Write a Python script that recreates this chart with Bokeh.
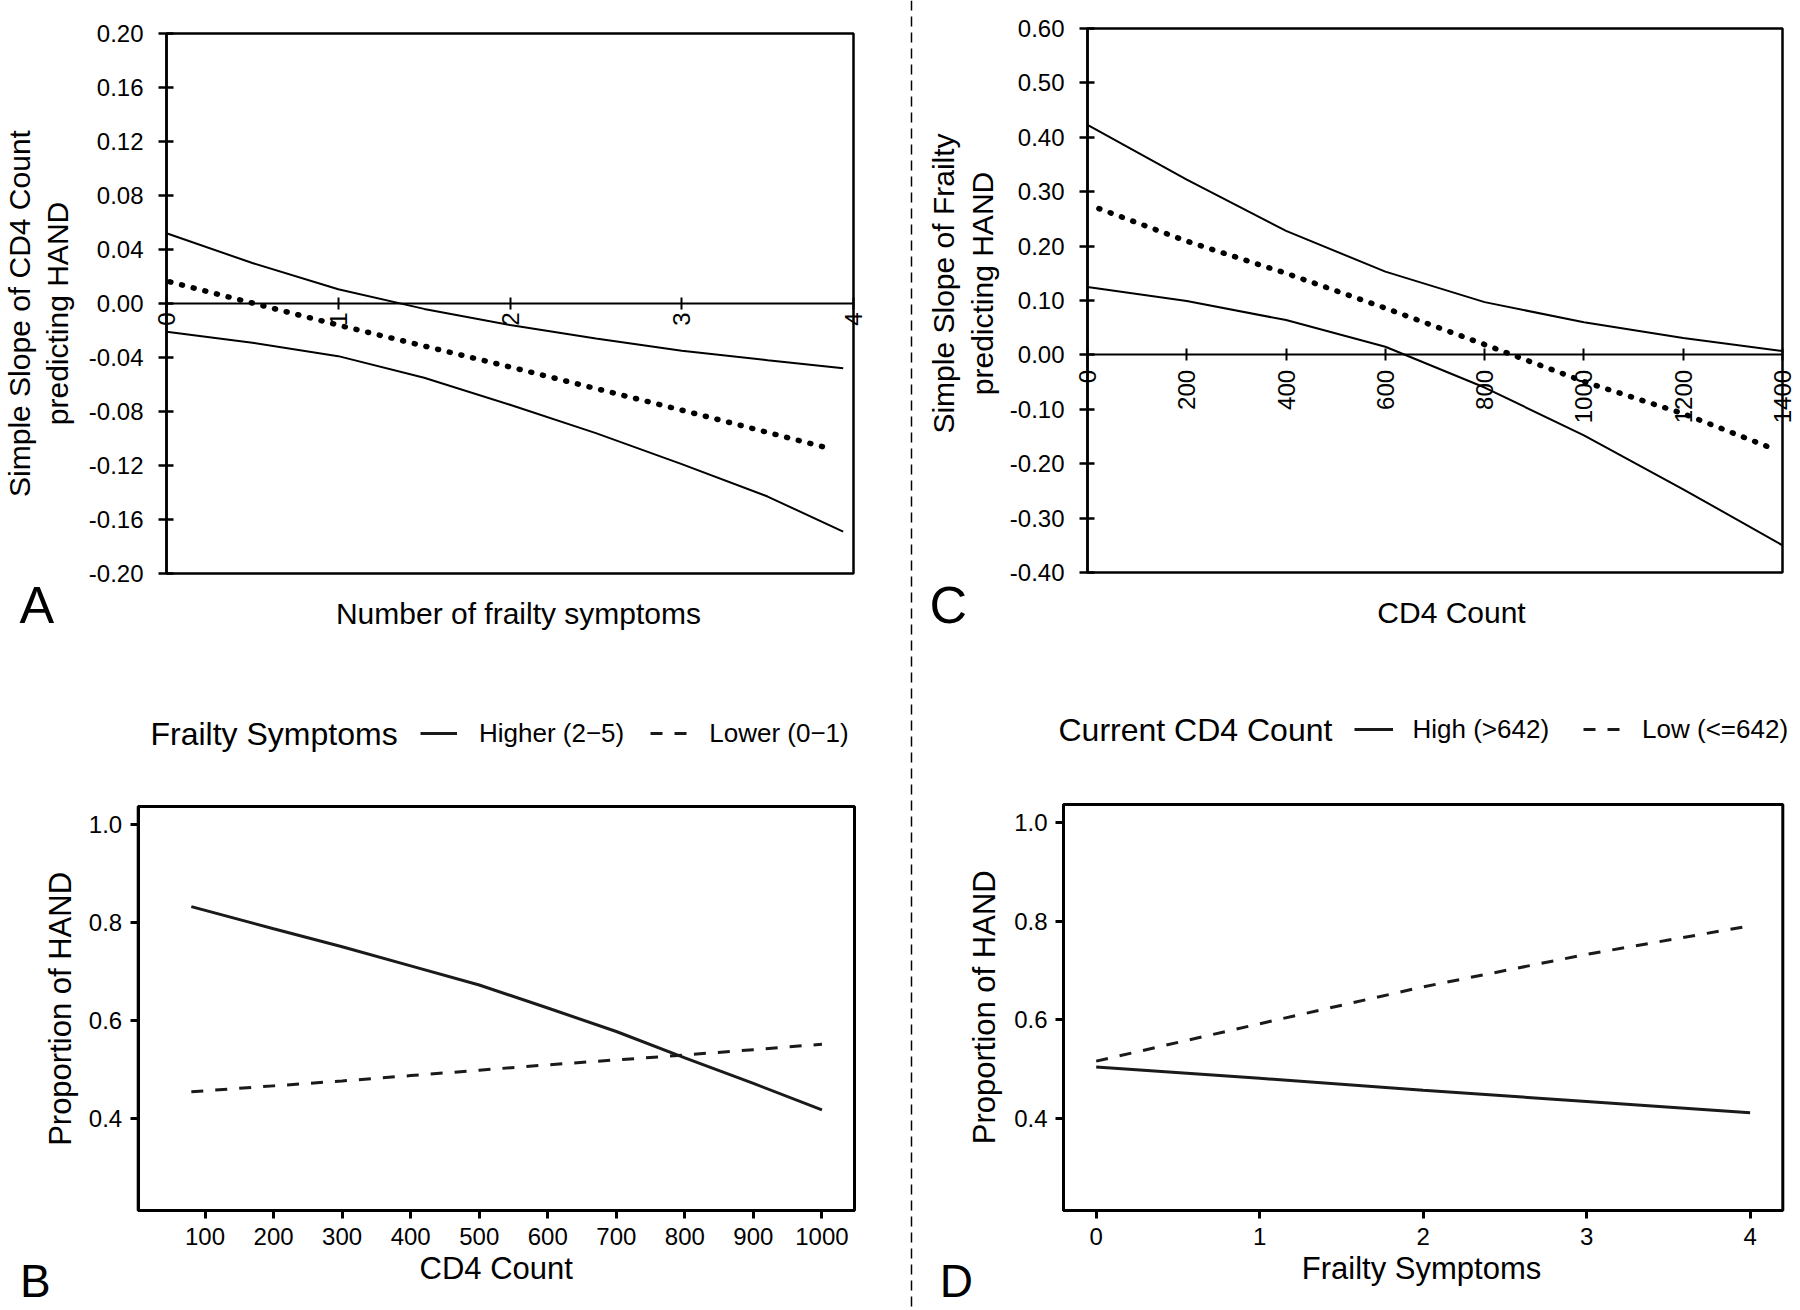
import math
from bokeh.plotting import figure
from bokeh.models import (Range1d, LinearAxis, FixedTicker, PrintfTickFormatter,
                          Legend, LegendItem, Label, Span, BoxAnnotation)
from bokeh.layouts import row, column
from bokeh.embed import file_html
from bokeh.resources import INLINE

FONT = "Liberation Sans"

# ---------------- data ----------------
# Panel A: simple slope of CD4 count by number of frailty symptoms
A_x_band = [0, 0.5, 1, 1.5, 2, 2.5, 3, 3.5, 3.94]
A_upper = [0.052, 0.030, 0.0105, -0.004, -0.016, -0.026, -0.035, -0.042, -0.048]
A_lower = [-0.021, -0.029, -0.039, -0.055, -0.075, -0.096, -0.119, -0.143, -0.169]
A_x_mid = [0.02, 1, 2, 3, 3.88]
A_mid = [0.016, -0.016, -0.047, -0.079, -0.108]
A_xticks = [0, 1, 2, 3, 4]
A_yticks = [-0.20, -0.16, -0.12, -0.08, -0.04, 0.0, 0.04, 0.08, 0.12, 0.16, 0.20]

# Panel C: simple slope of frailty by CD4 count
C_x_band = [0, 200, 400, 600, 800, 1000, 1200, 1400]
C_upper = [0.423, 0.322, 0.228, 0.153, 0.097, 0.060, 0.031, 0.007]
C_lower = [0.125, 0.099, 0.064, 0.015, -0.060, -0.148, -0.247, -0.350]
C_x_mid = [23, 200, 400, 600, 800, 1000, 1200, 1380]
C_mid = [0.269, 0.209, 0.150, 0.086, 0.019, -0.049, -0.108, -0.172]
C_xticks = [0, 200, 400, 600, 800, 1000, 1200, 1400]
C_yticks = [-0.40, -0.30, -0.20, -0.10, 0.0, 0.10, 0.20, 0.30, 0.40, 0.50, 0.60]

# Panel B: proportion of HAND by CD4 count
B_x = [80, 200, 300, 400, 500, 600, 700, 800, 900, 1000]
B_higher = [0.833, 0.788, 0.751, 0.712, 0.673, 0.626, 0.578, 0.524, 0.472, 0.418]
B_lower = [0.455, 0.467, 0.477, 0.488, 0.499, 0.510, 0.520, 0.530, 0.541, 0.552]
B_xticks = [100, 200, 300, 400, 500, 600, 700, 800, 900, 1000]
B_yticks = [0.4, 0.6, 0.8, 1.0]
B_labels = ["Higher (2\u22125)", "Lower (0\u22121)"]

# Panel D: proportion of HAND by frailty symptoms
D_x = [0, 1, 2, 3, 4]
D_high = [0.504, 0.481, 0.457, 0.434, 0.411]
D_low = [0.516, 0.592, 0.667, 0.733, 0.791]
D_xticks = [0, 1, 2, 3, 4]
D_yticks = [0.4, 0.6, 0.8, 1.0]
D_labels = ["High (>642)", "Low (<=642)"]

# axis limits of each panel box (x0, x1, y0, y1)
A_lim = (0, 4, -0.20, 0.20)
C_lim = (0, 1400, -0.40, 0.60)
B_lim = (2.5, 1047.5, 0.2125, 1.0375)
D_lim = (-0.2, 4.2, 0.2125, 1.0375)

# figure placement (left, top, width, height) and box pixels (L, R, T, B) on the page
A_fig = (0, 0, 906, 650);    A_box = (166, 853, 33, 573)
C_fig = (916, 0, 882, 650);  C_box = (1087, 1782, 28, 572)
B_fig = (0, 650, 906, 658);  B_box = (137.7, 854, 806, 1210)
D_fig = (916, 650, 882, 658); D_box = (1063, 1782.3, 804, 1210)


def make_fig(fig, box, lim):
    fx, fy, W, H = fig
    L, R, T, B = box
    x0, x1, y0, y1 = lim
    sx = (R - L) / (x1 - x0)
    sy = (B - T) / (y1 - y0)
    xr = (x0 - (L - fx) / sx, x1 + (fx + W - R) / sx)
    yr = (y0 - (fy + H - B) / sy, y1 + (T - fy) / sy)
    p = figure(width=W, height=H, x_range=Range1d(*xr), y_range=Range1d(*yr),
               toolbar_location=None, output_backend="svg", title=None,
               x_axis_type=None, y_axis_type=None, min_border=0)
    p.grid.visible = False
    p.outline_line_color = None
    p.background_fill_color = "white"
    p.border_fill_color = "white"
    return p


def add_box(p, lim, lw):
    x0, x1, y0, y1 = lim
    p.add_layout(BoxAnnotation(left=x0, right=x1, bottom=y0, top=y1, fill_alpha=0,
                               line_color="black", line_alpha=1, line_width=lw))


def axis(p, side, loc, bounds, ticks, fmt, lw, tick_in, tick_out, size, standoff, orient=None):
    kw = {}
    if fmt is not None:
        kw["formatter"] = PrintfTickFormatter(format=fmt)
    if orient is not None:
        kw["major_label_orientation"] = orient
    ax = LinearAxis(ticker=FixedTicker(ticks=ticks), fixed_location=loc, bounds=bounds, **kw)
    ax.axis_line_color = "black"
    ax.axis_line_width = lw
    ax.major_tick_line_color = "black"
    ax.major_tick_line_width = lw
    ax.major_tick_in = tick_in
    ax.major_tick_out = tick_out
    ax.minor_tick_line_color = None
    ax.major_label_text_font = FONT
    ax.major_label_text_font_size = size
    ax.major_label_text_color = "black"
    ax.major_label_standoff = standoff
    p.add_layout(ax, side)
    return ax


MID = 0.3465  # distance (in em) from the alphabetic baseline to the middle of the text box


def text(p, fig, s, x, y, size, angle=0.0, align="left"):
    """x, y: page position of the text's alphabetic baseline (left/center point)."""
    fx, fy, W, H = fig
    px = float(size.replace("px", ""))
    if angle:
        x = x - MID * px
    else:
        y = y - MID * px
    p.add_layout(Label(x=x - fx, y=(fy + H) - y, x_units="screen", y_units="screen",
                       text=s, angle=angle, text_font=FONT, text_font_size=size,
                       text_color="black", text_align=align, text_baseline="middle"))


VERT = math.pi / 2

# ---------------- Panel A ----------------
pA = make_fig(A_fig, A_box, A_lim)
add_box(pA, A_lim, 2.5)
axis(pA, "left", A_lim[0], (A_lim[2], A_lim[3]), A_yticks, "%.2f", 2.5, 7, 8, "24px", 15)
axis(pA, "below", 0, (A_lim[0], A_lim[1]), A_xticks, None, 2, 6, 6, "24px", 3, orient=VERT)
pA.line(A_x_band, A_upper, line_color="black", line_width=2)
pA.line(A_x_band, A_lower, line_color="black", line_width=2)
pA.line(A_x_mid, A_mid, line_color="black", line_width=5.5, line_dash="1 11", line_cap="round")
text(pA, A_fig, "Number of frailty symptoms", 518, 623, "30px", align="center")
text(pA, A_fig, "Simple Slope of CD4 Count", 29.5, 313, "30px", angle=VERT, align="center")
text(pA, A_fig, "predicting HAND", 67, 313, "30px", angle=VERT, align="center")
text(pA, A_fig, "A", 19, 623, "52px")

# ---------------- Panel C ----------------
pC = make_fig(C_fig, C_box, C_lim)
add_box(pC, C_lim, 2.5)
axis(pC, "left", C_lim[0], (C_lim[2], C_lim[3]), C_yticks, "%.2f", 2.5, 7, 8, "24px", 15)
axis(pC, "below", 0, (C_lim[0], C_lim[1]), C_xticks, None, 2, 6, 6, "24px", 9, orient=VERT)
pC.line(C_x_band, C_upper, line_color="black", line_width=2)
pC.line(C_x_band, C_lower, line_color="black", line_width=2)
pC.line(C_x_mid, C_mid, line_color="black", line_width=5.5, line_dash="1 11", line_cap="round")
text(pC, C_fig, "CD4 Count", 1451, 622, "30px", align="center")
text(pC, C_fig, "Simple Slope of Frailty", 953, 283, "30px", angle=VERT, align="center")
text(pC, C_fig, "predicting HAND", 992, 283, "30px", angle=VERT, align="center")
text(pC, C_fig, "C", 929, 623, "52px")

# ---------------- Panel B ----------------
pB = make_fig(B_fig, B_box, B_lim)
add_box(pB, B_lim, 3)
axis(pB, "left", B_lim[0], (B_lim[2], B_lim[3]), B_yticks, "%.1f", 3, 0, 8, "24px", 8)
axis(pB, "below", B_lim[2], (B_lim[0], B_lim[1]), B_xticks, None, 3, 0, 8, "24px", 9)
rb1 = pB.line(B_x, B_higher, line_color="#1a1a1a", line_width=3)
rb2 = pB.line(B_x, B_lower, line_color="#1a1a1a", line_width=3, line_dash="12 12")
legB = Legend(items=[LegendItem(label=B_labels[0], renderers=[rb1]),
                     LegendItem(label=B_labels[1], renderers=[rb2])],
              orientation="horizontal", location=(420, 1308 - 733.6 - 15), padding=0, margin=0,
              spacing=26, glyph_width=37, glyph_height=30, label_height=30,
              label_standoff=22, label_text_font=FONT, label_text_font_size="26px",
              label_text_color="black", border_line_color=None, background_fill_alpha=0)
pB.add_layout(legB, "center")
text(pB, B_fig, "Frailty Symptoms", 150, 745, "32px")
text(pB, B_fig, "CD4 Count", 495.7, 1279, "31px", align="center")
text(pB, B_fig, "Proportion of HAND", 71, 1008.4, "31px", angle=VERT, align="center")
text(pB, B_fig, "B", 19.6, 1296, "46px")

# ---------------- Panel D ----------------
pD = make_fig(D_fig, D_box, D_lim)
add_box(pD, D_lim, 3)
axis(pD, "left", D_lim[0], (D_lim[2], D_lim[3]), D_yticks, "%.1f", 3, 0, 8, "24px", 8)
axis(pD, "below", D_lim[2], (D_lim[0], D_lim[1]), D_xticks, None, 3, 0, 8, "24px", 9)
rd1 = pD.line(D_x, D_high, line_color="#1a1a1a", line_width=3)
rd2 = pD.line(D_x, D_low, line_color="#1a1a1a", line_width=3, line_dash="12 12")
legD = Legend(items=[LegendItem(label=D_labels[0], renderers=[rd1]),
                     LegendItem(label=D_labels[1], renderers=[rd2])],
              orientation="horizontal", location=(1353.5 - 916, 1308 - 729.5 - 15), padding=0, margin=0,
              spacing=34, glyph_width=39, glyph_height=30, label_height=30,
              label_standoff=20, label_text_font=FONT, label_text_font_size="26px",
              label_text_color="black", border_line_color=None, background_fill_alpha=0)
pD.add_layout(legD, "center")
text(pD, D_fig, "Current CD4 Count", 1058, 741, "32px")
text(pD, D_fig, "Frailty Symptoms", 1421, 1278.5, "31px", align="center")
text(pD, D_fig, "Proportion of HAND", 995, 1006.8, "31px", angle=VERT, align="center")
text(pD, D_fig, "D", 939.3, 1296, "46px")

# ---------------- separator ----------------
sep = figure(width=10, height=1308, x_range=Range1d(0, 1), y_range=Range1d(0, 1),
             toolbar_location=None, output_backend="svg", title=None,
             x_axis_type=None, y_axis_type=None, min_border=0)
sep.grid.visible = False
sep.outline_line_color = None
sep.border_fill_color = "white"
sep.background_fill_color = "white"
sep.add_layout(Span(location=0.5, dimension="height", line_color="black",
                    line_width=1.5, line_dash="10 6"))

layout = row(column(pA, pB), sep, column(pC, pD))

with open("out.html", "w") as f:
    f.write(file_html(layout, INLINE))
